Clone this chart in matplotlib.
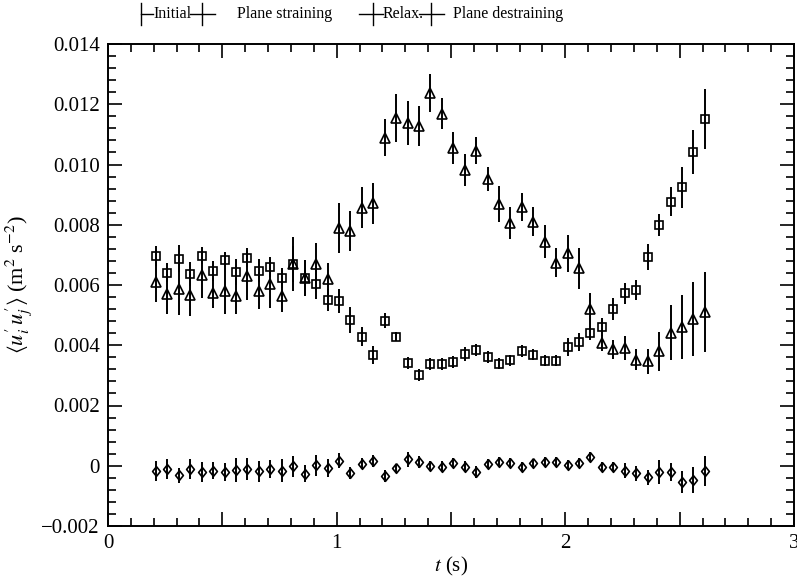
"""Reynolds stress history under plane straining / destraining, error-bar plot."""
import matplotlib
matplotlib.use("Agg")
import matplotlib.pyplot as plt
from matplotlib.lines import Line2D
from matplotlib.ticker import MultipleLocator, FuncFormatter

plt.rcParams["font.family"] = "Liberation Serif"
plt.rcParams["mathtext.fontset"] = "stix"

t = [0.21, 0.26, 0.31, 0.36, 0.41, 0.46, 0.51, 0.56, 0.61, 0.66,
     0.71, 0.76, 0.81, 0.86, 0.91, 0.96, 1.01, 1.06, 1.11, 1.16,
     1.21, 1.26, 1.31, 1.36, 1.41, 1.46, 1.51, 1.56, 1.61, 1.66,
     1.71, 1.76, 1.81, 1.86, 1.91, 1.96, 2.01, 2.06, 2.11, 2.16,
     2.21, 2.26, 2.31, 2.36, 2.41, 2.46, 2.51, 2.56, 2.61]

sq = [0.00696, 0.00641, 0.00687, 0.00636, 0.00697, 0.00646, 0.00683, 0.00642, 0.00691, 0.00647,
      0.0066, 0.00624, 0.0067, 0.00624, 0.00603, 0.00551, 0.00547, 0.00484, 0.00429, 0.00367,
      0.00481, 0.00428, 0.00342, 0.00301, 0.00337, 0.00337, 0.00345, 0.00371, 0.00385, 0.00362,
      0.00339, 0.0035, 0.00381, 0.00369, 0.00348, 0.00348, 0.00395, 0.00411, 0.00441, 0.00461,
      0.0052, 0.00572, 0.00583, 0.00694, 0.00799, 0.00876, 0.00924, 0.01042, 0.01151]
sq_err = [0.00033, 0.00031, 0.00045, 0.0004, 0.00028, 0.00034, 0.00028, 0.00043, 0.00031, 0.00038,
          0.00032, 0.00034, 0.0009, 0.0006, 0.00048, 0.00037, 0.0004, 0.00044, 0.0003, 0.0003,
          0.00025, 0.00015, 0.0002, 0.0002, 0.0002, 0.0002, 0.0002, 0.00022, 0.0002, 0.0002,
          0.00018, 0.00018, 0.0002, 0.00018, 0.00018, 0.00018, 0.0003, 0.0003, 0.00025, 0.0003,
          0.00037, 0.00034, 0.00032, 0.00043, 0.00037, 0.00048, 0.00068, 0.00072, 0.00098]

tri = [0.00611, 0.00569, 0.00586, 0.00567, 0.00633, 0.00574, 0.0058, 0.00563, 0.00631, 0.00581,
       0.00602, 0.00563, 0.0067, 0.00624, 0.0067, 0.0062, 0.00788, 0.00778, 0.00857, 0.00871,
       0.01089, 0.01155, 0.01139, 0.01128, 0.01236, 0.01169, 0.01054, 0.00982, 0.01046, 0.00951,
       0.00869, 0.00807, 0.0086, 0.0081, 0.00744, 0.00674, 0.00705, 0.00655, 0.0052, 0.00407,
       0.00386, 0.00392, 0.00352, 0.00347, 0.0038, 0.00442, 0.00461, 0.00486, 0.0051]
tri_err = [0.00066, 0.00066, 0.00085, 0.0007, 0.00077, 0.00049, 0.00076, 0.0006, 0.0008, 0.00062,
           0.0008, 0.00054, 0.0006, 0.0006, 0.0007, 0.00052, 0.00083, 0.00066, 0.00069, 0.00068,
           0.00061, 0.0008, 0.00073, 0.00065, 0.00063, 0.00052, 0.00053, 0.00053, 0.00045, 0.0004,
           0.00059, 0.00053, 0.00046, 0.00049, 0.00056, 0.00049, 0.00062, 0.00068, 0.00052, 0.00027,
           0.0003, 0.0004, 0.00034, 0.00042, 0.00065, 0.0009, 0.00105, 0.00123, 0.00133]

dia = [-0.00017, -0.00011, -0.00031, -0.00012, -0.00022, -0.00016, -0.00022, -0.00014, -0.0001, -0.00019,
       -0.0001, -0.00016, -0.00001, -0.00027, 0.00002, -0.00006, 0.00017, -0.00023, 0.00007, 0.00016,
       -0.00034, -0.00008, 0.00021, 0.00012, -0.00001, -0.00003, 0.0001, -0.00003, -0.00021, 0.00006,
       0.00013, 0.0001, -0.00003, 0.00008, 0.00013, 0.00013, 0.00002, 0.0001, 0.00028, -0.00003,
       -0.00003, -0.00017, -0.00025, -0.00038, -0.0002, -0.00022, -0.00055, -0.00047, -0.00017]
dia_err = [0.00033, 0.00034, 0.00025, 0.00033, 0.00033, 0.00029, 0.0003, 0.00041, 0.00037, 0.00036,
           0.0003, 0.00038, 0.00035, 0.00028, 0.00035, 0.0003, 0.00026, 0.0002, 0.00018, 0.0002,
           0.0002, 0.00015, 0.00025, 0.0002, 0.00018, 0.00018, 0.00016, 0.00018, 0.0002, 0.00016,
           0.00016, 0.00016, 0.00016, 0.00016, 0.00016, 0.00016, 0.00016, 0.00016, 0.00016, 0.00016,
           0.00016, 0.00025, 0.00025, 0.00025, 0.00039, 0.0003, 0.00036, 0.00044, 0.0005]

DIAMOND = [(0, 1), (0.8, 0), (0, -1), (-0.8, 0), (0, 1)]

fig = plt.figure(figsize=(7.97, 5.77), dpi=100)
ax = fig.add_axes([108 / 797, 1 - 526 / 577, 686 / 797, 482 / 577])

kw = dict(ls="none", color="black", mfc="none", mec="black", mew=1.2, elinewidth=1.4, capsize=0)
ax.errorbar(t, tri, yerr=tri_err, marker="^", ms=7, **kw)
ax.errorbar(t, sq, yerr=sq_err, marker="s", ms=5.2, **kw)
ax.errorbar(t, dia, yerr=dia_err, marker=DIAMOND, ms=7, **kw)

ax.set_xlim(0, 3)
ax.set_ylim(-0.002, 0.014)
ax.xaxis.set_major_locator(MultipleLocator(0.5))
ax.xaxis.set_minor_locator(MultipleLocator(0.1))
ax.xaxis.set_major_formatter(FuncFormatter(lambda v, p: f"{v:g}" if abs(v - round(v)) < 1e-9 else ""))
ax.yaxis.set_major_locator(MultipleLocator(0.002))
ax.yaxis.set_minor_locator(MultipleLocator(0.0004))
ax.yaxis.set_major_formatter(FuncFormatter(
    lambda v, p: "0" if abs(v) < 1e-12 else f"{v:.3f}".replace("-", "\u2212")))
ax.tick_params(which="both", direction="in", top=True, right=True, labelsize=15, width=1.2)
ax.tick_params(which="major", length=10, pad=6)
ax.tick_params(which="minor", length=6)
for s in ax.spines.values():
    s.set_linewidth(1.4)

ax.set_xlabel(r"$t$ (s)", fontsize=15, labelpad=1)
ax.set_ylabel(r"$\langle u_i^{\prime}\,u_j^{\prime}\rangle$ (m$^2$ s$^{-2}$)", fontsize=16, labelpad=5)

# phase schematic above the axes (figure pixel positions)
W, H = 797, 577
def hline(x0, x1, y=14):
    fig.add_artist(Line2D([x0 / W, x1 / W], [1 - y / H, 1 - y / H], color="black", lw=1.0))
def vline(x, y0=3, y1=25):
    fig.add_artist(Line2D([x / W, x / W], [1 - y0 / H, 1 - y1 / H], color="black", lw=1.0))

vline(141); hline(141, 153); hline(190, 202); vline(202); hline(202, 215)
hline(359, 373); vline(373); hline(373, 383); hline(419, 431); vline(431); hline(431, 444)
fs = 11.5
fig.text(153 / W, 1 - 14 / H, "Initial", fontsize=fs, va="center", ha="left")
fig.text(237 / W, 1 - 14 / H, "Plane straining", fontsize=fs, va="center", ha="left")
fig.text(383 / W, 1 - 14 / H, "Relax.", fontsize=fs, va="center", ha="left")
fig.text(453 / W, 1 - 14 / H, "Plane destraining", fontsize=fs, va="center", ha="left")

fig.savefig("out.png", dpi=100)
